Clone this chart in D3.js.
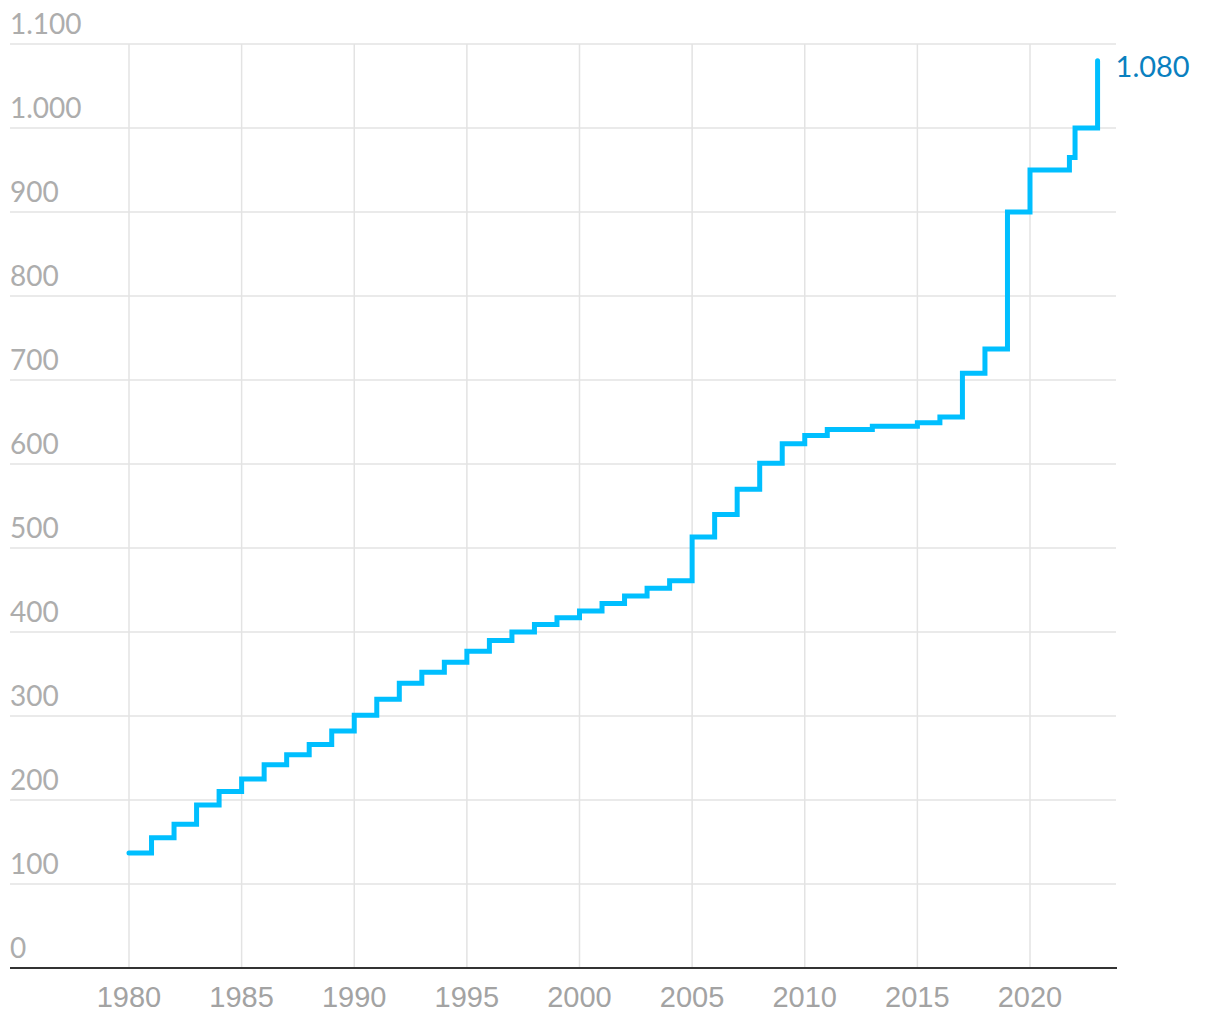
<!DOCTYPE html>
<html><head><meta charset="utf-8">
<script src="https://cdn.jsdelivr.net/npm/d3@7"></script>
<style>
html,body{margin:0;padding:0;background:#fff;}
svg{display:block;}
</style></head>
<body>
<svg id="chart" width="1220" height="1020"></svg>
<script>
const years = [1980,1981,1982,1983,1984,1985,1986,1987,1988,1989,1990,1991,1992,1993,1994,1995,1996,1997,1998,1999,2000,2001,2002,2003,2004,2005,2006,2007,2008,2009,2010,2011,2012,2013,2014,2015,2016,2017,2018,2019,2020,2021,2021.75,2022,2023];
const values = [137,155,171,194,210,225,242,254,266,282,301,320,339,352,364,377,390,400,409,417,425,434,443,452,461,513,540,570,601,624,634,641,641,645,645,649,656,708,737,900,950,950,965,1000,1080];
const yTicks = [0,100,200,300,400,500,600,700,800,900,1000,1100];
const xTicks = [1980,1985,1990,1995,2000,2005,2010,2015,2020];
const endLabel = "1.080";

const locale = d3.formatLocale({decimal:",", thousands:".", grouping:[3], currency:["","€"]});
const fmt = locale.format(",");

const svg = d3.select("#chart");
const x = d3.scaleLinear().domain([1980,2020]).range([129,1030]);
const y = d3.scaleLinear().domain([0,1100]).range([968,44]);

// horizontal grid
svg.append("g").selectAll("line").data(yTicks.filter(d=>d>0)).join("line")
  .attr("x1",10).attr("x2",1116)
  .attr("y1",d=>y(d)).attr("y2",d=>y(d))
  .attr("stroke","#e3e3e3").attr("stroke-width",1.5);
// vertical grid
svg.append("g").selectAll("line").data(xTicks).join("line")
  .attr("x1",d=>x(d)).attr("x2",d=>x(d))
  .attr("y1",y(1100)).attr("y2",y(0))
  .attr("stroke","#e3e3e3").attr("stroke-width",1.5);

// y labels
svg.append("g").selectAll("text").data(yTicks).join("text")
  .attr("x",10).attr("y",d=>y(d)-10)
  .attr("font-family","Lato, sans-serif").attr("font-size",28)
  .attr("fill","#adadad")
  .text(d=>fmt(d));

// x axis line
svg.append("line").attr("x1",10).attr("x2",1117).attr("y1",y(0)).attr("y2",y(0))
  .attr("stroke","#333").attr("stroke-width",2);

// x labels
svg.append("g").selectAll("text").data(xTicks).join("text")
  .attr("x",d=>x(d)).attr("y",1007)
  .attr("text-anchor","middle")
  .attr("font-family","'Liberation Sans', Arial, sans-serif").attr("font-size",29)
  .attr("fill","#a3a3a3")
  .text(d=>d);

// step line
const data = years.map((yr,i)=>({yr, v:values[i]}));
const line = d3.line().x(d=>x(d.yr)).y(d=>y(d.v)).curve(d3.curveStepAfter);
svg.append("path").datum(data).attr("d",line)
  .attr("fill","none").attr("stroke","#00bfff").attr("stroke-width",5)
  .attr("stroke-linejoin","miter").attr("stroke-linecap","round");

// end label
const last = data[data.length-1];
svg.append("text").attr("x",x(last.yr)+18).attr("y",y(last.v)+16)
  .attr("font-family","Lato, sans-serif").attr("font-size",29)
  .attr("fill","#0a80bf").text(endLabel);
</script>
</body></html>
